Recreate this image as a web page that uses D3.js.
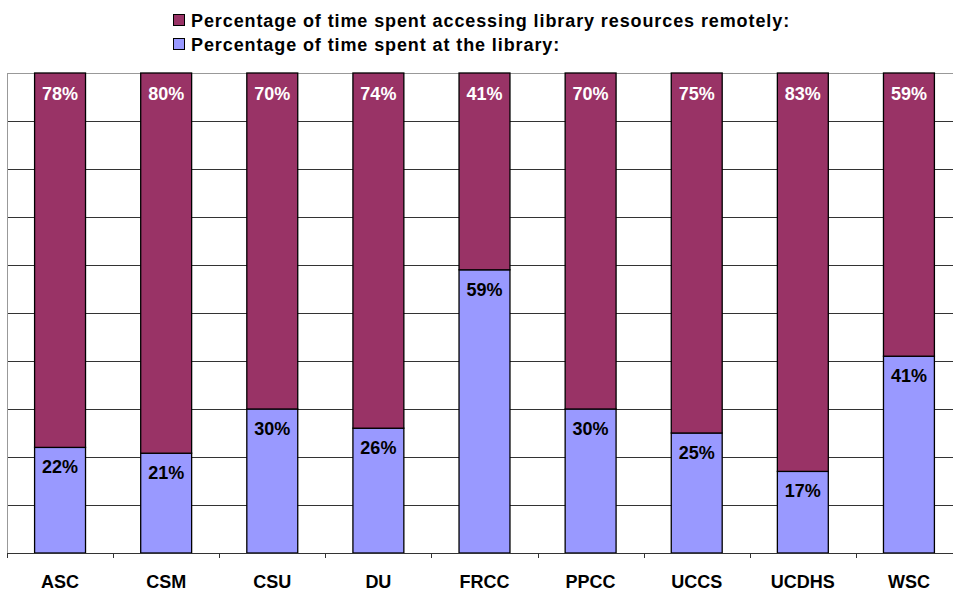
<!DOCTYPE html>
<html>
<head>
<meta charset="utf-8">
<script src="https://cdn.jsdelivr.net/npm/d3@7"></script>
<style>
  body { margin: 0; background: #fff; }
  svg { display: block; font-family: Arial, "Liberation Sans", sans-serif; }
</style>
</head>
<body>
<svg width="953" height="591"></svg>
<script>
// Data
const categories = ["ASC", "CSM", "CSU", "DU", "FRCC", "PPCC", "UCCS", "UCDHS", "WSC"];
const remote = [78, 80, 70, 74, 41, 70, 75, 83, 59];
const atLibrary = [22, 21, 30, 26, 59, 30, 25, 17, 41];
const seriesNames = [
  "Percentage of time spent accessing library resources remotely:",
  "Percentage of time spent at the library:"
];
const colors = ["#993366", "#9999ff"];

const svg = d3.select("svg");
const plotLeft = 7, plotRight = 962, plotTop = 73, plotBottom = 553;

const x = d3.scaleBand().domain(categories).range([plotLeft, plotRight]).paddingInner(0.52).paddingOuter(0.26);
const y = d3.scaleLinear().domain([0, 1]).range([plotBottom, plotTop]);

// gridlines
svg.append("g")
  .selectAll("line")
  .data(d3.range(1, 11).map(d => d / 10))
  .enter()
  .append("line")
  .attr("x1", plotLeft).attr("x2", plotRight)
  .attr("y1", d => Math.round(y(d)) + 0.5)
  .attr("y2", d => Math.round(y(d)) + 0.5)
  .attr("stroke", (d, i) => i === 9 ? "#999" : "#333")
  .attr("stroke-width", 1);

// left axis line
svg.append("line")
  .attr("x1", plotLeft + 0.5).attr("x2", plotLeft + 0.5)
  .attr("y1", plotTop).attr("y2", plotBottom)
  .attr("stroke", "#999");

// stacked data (100% normalised)
const rows = categories.map((c, i) => {
  const total = remote[i] + atLibrary[i];
  return { cat: c, lib: atLibrary[i] / total, libLabel: atLibrary[i], remLabel: remote[i] };
});

const g = svg.append("g");
// library (bottom)
g.selectAll("rect.lib")
  .data(rows)
  .enter()
  .append("rect")
  .attr("class", "lib")
  .attr("x", d => x(d.cat))
  .attr("width", x.bandwidth())
  .attr("y", d => y(d.lib))
  .attr("height", d => y(0) - y(d.lib))
  .attr("fill", colors[1])
  .attr("stroke", "#000")
  .attr("stroke-width", 1.3);

// remote (top)
g.selectAll("rect.rem")
  .data(rows)
  .enter()
  .append("rect")
  .attr("class", "rem")
  .attr("x", d => x(d.cat))
  .attr("width", x.bandwidth())
  .attr("y", y(1))
  .attr("height", d => y(d.lib) - y(1))
  .attr("fill", colors[0])
  .attr("stroke", "#000")
  .attr("stroke-width", 1.3);

// labels
g.selectAll("text.rem")
  .data(rows)
  .enter()
  .append("text")
  .attr("x", d => x(d.cat) + x.bandwidth() / 2)
  .attr("y", y(1) + 27)
  .attr("text-anchor", "middle")
  .attr("font-size", 18)
  .attr("font-weight", "bold")
  .attr("fill", "#fff")
  .text(d => d.remLabel + "%");

g.selectAll("text.lib")
  .data(rows)
  .enter()
  .append("text")
  .attr("x", d => x(d.cat) + x.bandwidth() / 2)
  .attr("y", d => y(d.lib) + 26)
  .attr("text-anchor", "middle")
  .attr("font-size", 18)
  .attr("font-weight", "bold")
  .attr("fill", "#000")
  .text(d => d.libLabel + "%");

// bottom axis
const axis = svg.append("g").attr("transform", `translate(0,${plotBottom})`);
axis.append("line")
  .attr("x1", plotLeft).attr("x2", plotRight)
  .attr("y1", 0.5).attr("y2", 0.5)
  .attr("stroke", "#333");
const step = (plotRight - plotLeft) / categories.length;
axis.selectAll("line.tick")
  .data(d3.range(categories.length + 1))
  .enter()
  .append("line")
  .attr("x1", i => Math.round(plotLeft + i * step) + 0.5)
  .attr("x2", i => Math.round(plotLeft + i * step) + 0.5)
  .attr("y1", 0).attr("y2", 5)
  .attr("stroke", "#333");
axis.selectAll("text")
  .data(categories)
  .enter()
  .append("text")
  .attr("x", d => x(d) + x.bandwidth() / 2)
  .attr("y", 35)
  .attr("text-anchor", "middle")
  .attr("font-size", 18)
  .attr("font-weight", "bold")
  .text(d => d);

// legend
const legend = svg.append("g");
seriesNames.forEach((name, i) => {
  legend.append("rect")
    .attr("x", 173.5).attr("y", 14.5 + i * 24)
    .attr("width", 11).attr("height", 11)
    .attr("fill", colors[i])
    .attr("stroke", "#000");
  legend.append("text")
    .attr("x", 191).attr("y", 27 + i * 24)
    .attr("font-size", 18)
    .attr("letter-spacing", 0.9)
    .attr("font-weight", "bold")
    .text(name);
});
</script>
</body>
</html>
